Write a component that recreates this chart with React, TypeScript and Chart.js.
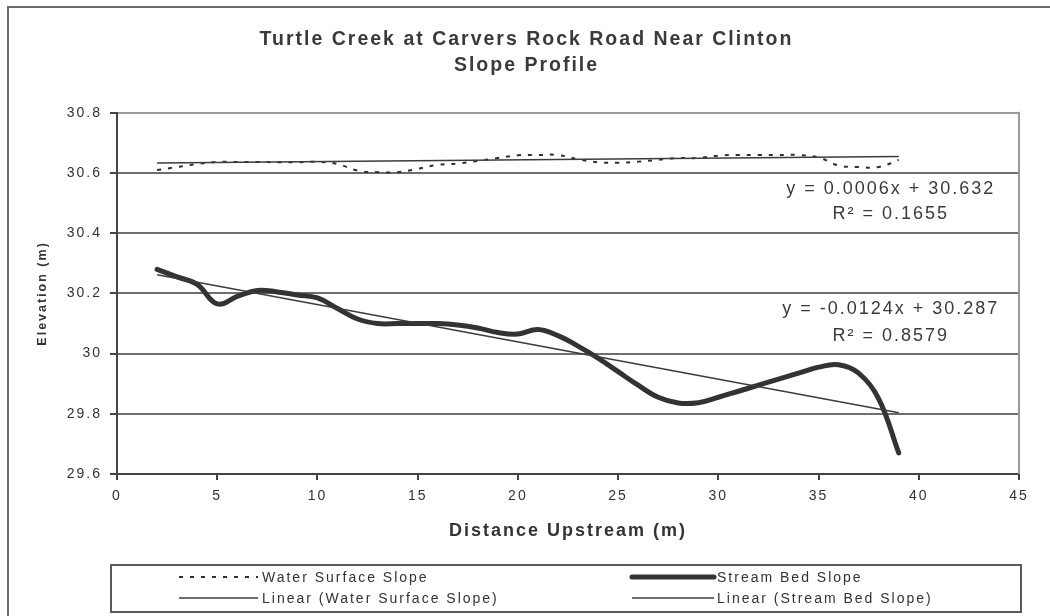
import React, { useEffect, useRef } from "react";
import { Chart, registerables } from "chart.js";

Chart.register(...registerables);

// ---------- data ----------
const TITLE_LINES = ["Turtle Creek at Carvers Rock Road Near Clinton", "Slope Profile"];
const X_TITLE = "Distance Upstream (m)";
const Y_TITLE = "Elevation (m)";

const X_MIN = 0;
const X_MAX = 45;
const X_STEP = 5;
const Y_MIN = 29.6;
const Y_MAX = 30.8;
const Y_STEP = 0.2;

const distance = [
  2, 3, 4, 5, 6, 7, 8, 9, 10, 11, 12, 13, 14, 15, 16, 17, 18, 19, 20, 21,
  22, 23, 24, 25, 26, 27, 28, 29, 30, 31, 32, 33, 34, 35, 36, 37, 38, 39,
];

const waterSurface = [
  30.61, 30.62, 30.63, 30.637, 30.637, 30.637, 30.636, 30.636, 30.637, 30.63,
  30.608, 30.603, 30.603, 30.614, 30.627, 30.632, 30.64, 30.65, 30.659, 30.66,
  30.66, 30.646, 30.636, 30.634, 30.638, 30.644, 30.65, 30.65, 30.658, 30.66,
  30.66, 30.66, 30.66, 30.652, 30.625, 30.62, 30.62, 30.644,
];

const streamBed = [
  30.28, 30.255, 30.23, 30.165, 30.19, 30.21, 30.205, 30.195, 30.185, 30.15,
  30.115, 30.1, 30.1, 30.1, 30.1, 30.095, 30.085, 30.07, 30.065, 30.08,
  30.06, 30.025, 29.985, 29.94, 29.895, 29.855, 29.836, 29.837, 29.855, 29.875,
  29.895, 29.915, 29.935, 29.955, 29.963, 29.935, 29.85, 29.67,
];

const seriesNames = ["Water Surface Slope", "Stream Bed Slope"];
const trendNames = ["Linear (Water Surface Slope)", "Linear (Stream Bed Slope)"];
const trendSlopes = [0.0006, -0.0124];
const trendIntercepts = [30.632, 30.287];
const trendRange = [2, 39];

const equationLines = [
  ["y = 0.0006x + 30.632", "R\u00B2 = 0.1655"],
  ["y = -0.0124x + 30.287", "R\u00B2 = 0.8579"],
];
const equationX = [38.6, 38.6];
const equationY = [
  [30.546, 30.464],
  [30.148, 30.06],
];

// ---------- styling ----------
const FONT = '"Liberation Sans", Arial, sans-serif';
const TEXT = "#333333";

const framePlugin = {
  id: "frameAndSpacing",
  beforeDraw(chart: any) {
    const ctx = chart.ctx;
    ctx.save();
    ctx.fillStyle = "#ffffff";
    ctx.fillRect(0, 0, chart.width, chart.height);
    ctx.strokeStyle = "#6b6b6b";
    ctx.lineWidth = 2;
    ctx.strokeRect(8, 7, chart.width + 60, chart.height + 60);
    ctx.restore();
    ctx.letterSpacing = "2px";
  },
  afterDatasetsDraw(chart: any) {
    const ctx = chart.ctx;
    const a = chart.chartArea;
    ctx.save();
    ctx.strokeStyle = "#9a9a9a";
    ctx.lineWidth = 2;
    ctx.beginPath();
    ctx.moveTo(Math.round(a.right), a.top - 1);
    ctx.lineTo(Math.round(a.right), a.bottom);
    ctx.stroke();

    const xs = chart.scales.x;
    const ys = chart.scales.y;
    ctx.fillStyle = "#3a3a3a";
    ctx.font = `18px ${FONT}`;
    ctx.letterSpacing = "2px";
    ctx.textAlign = "center";
    ctx.textBaseline = "middle";
    equationLines.forEach((lines, i) => {
      lines.forEach((t, j) => {
        ctx.fillText(t, xs.getPixelForValue(equationX[i]), ys.getPixelForValue(equationY[i][j]));
      });
    });
    ctx.restore();
  },
  afterDraw(chart: any) {
    const ctx = chart.ctx;
    const ds = chart.data.datasets;
    ctx.save();
    ctx.letterSpacing = "2px";
    // legend box
    ctx.strokeStyle = "#5a5a5a";
    ctx.lineWidth = 2;
    ctx.strokeRect(111, 565, 910, 47);
    const cols = [
      { x0: 179, x1: 258, tx: 262 },
      { x0: 632, x1: 714, tx: 717 },
    ];
    const rows = [577, 598];
    const items = [
      { d: ds[0], c: 0, r: 0 },
      { d: ds[1], c: 1, r: 0 },
      { d: ds[2], c: 0, r: 1 },
      { d: ds[3], c: 1, r: 1 },
    ];
    ctx.font = `14px ${FONT}`;
    ctx.textBaseline = "middle";
    ctx.textAlign = "left";
    items.forEach((it) => {
      const col = cols[it.c];
      const y = rows[it.r];
      ctx.save();
      ctx.strokeStyle = it.d.borderColor;
      ctx.lineWidth = it.d.borderWidth;
      ctx.setLineDash(it.d.borderDash || []);
      ctx.lineCap = it.d.borderCapStyle || "butt";
      ctx.beginPath();
      ctx.moveTo(col.x0, y);
      ctx.lineTo(col.x1, y);
      ctx.stroke();
      ctx.restore();
      ctx.fillStyle = TEXT;
      ctx.fillText(it.d.label, col.tx, y + 1);
    });
    ctx.restore();
  },
};

export default function App() {
  const ref = useRef<HTMLCanvasElement>(null);

  useEffect(() => {
    const canvas = ref.current;
    if (!canvas) return;

    const toPoints = (ys: number[]) => distance.map((x, i) => ({ x, y: ys[i] }));
    const trendPoints = (k: number) =>
      trendRange.map((x) => ({ x, y: trendSlopes[k] * x + trendIntercepts[k] }));

    const chart = new Chart(canvas, {
      type: "line",
      data: {
        datasets: [
          {
            label: seriesNames[0],
            data: toPoints(waterSurface),
            borderColor: "#2e2e2e",
            borderWidth: 2,
            borderDash: [4, 7],
            pointRadius: 0,
            tension: 0.4,
            fill: false,
            order: 2,
          },
          {
            label: seriesNames[1],
            data: toPoints(streamBed),
            borderColor: "#333333",
            borderWidth: 5,
            borderCapStyle: "round",
            borderJoinStyle: "round",
            pointRadius: 0,
            tension: 0.4,
            fill: false,
            order: 3,
          },
          {
            label: trendNames[0],
            data: trendPoints(0),
            borderColor: "#3c3c3c",
            borderWidth: 1.5,
            pointRadius: 0,
            tension: 0,
            fill: false,
            order: 0,
          },
          {
            label: trendNames[1],
            data: trendPoints(1),
            borderColor: "#3c3c3c",
            borderWidth: 1.5,
            pointRadius: 0,
            tension: 0,
            fill: false,
            order: 1,
          },
        ] as any,
      },
      options: {
        animation: false,
        responsive: false,
        events: [],
        layout: { padding: { left: 34, right: 31, top: 0, bottom: 67 } },
        plugins: {
          legend: { display: false },
          tooltip: { enabled: false },
          title: {
            display: true,
            text: TITLE_LINES,
            color: "#3a3a3a",
            font: { family: FONT, size: 19.5, weight: "bold", lineHeight: 1.33 },
            padding: { top: 27, bottom: 34 },
          },
        },
        scales: {
          x: {
            type: "linear",
            min: X_MIN,
            max: X_MAX,
            ticks: {
              stepSize: X_STEP,
              color: TEXT,
              font: { family: FONT, size: 14 },
              padding: 8,
              maxRotation: 0,
            },
            grid: {
              drawOnChartArea: false,
              drawTicks: true,
              tickLength: 6,
              color: "#444444",
              lineWidth: 2,
            },
            border: { display: true, color: "#444444", width: 2 },
            title: {
              display: true,
              text: X_TITLE,
              color: TEXT,
              font: { family: FONT, size: 18, weight: "bold" },
              padding: { top: 0, bottom: 7 },
            },
            afterFit(scale: any) {
              scale.height = 75;
              scale.paddingLeft = 0;
              scale.paddingRight = 0;
            },
          } as any,
          y: {
            type: "linear",
            min: Y_MIN,
            max: Y_MAX,
            ticks: {
              stepSize: Y_STEP,
              color: TEXT,
              font: { family: FONT, size: 14 },
              padding: 8,
              callback: (v: any) => String(Math.round(Number(v) * 10) / 10),
            },
            grid: {
              drawTicks: true,
              tickLength: 7,
              color: (c: any) => (c.tick && c.tick.value > Y_MAX - 0.01 ? "#9a9a9a" : "#6e6e6e"),
              tickColor: "#444444",
              lineWidth: 2,
            },
            border: { display: true, color: "#444444", width: 2 },
            title: {
              display: true,
              text: Y_TITLE,
              color: TEXT,
              font: { family: FONT, size: 12.5, weight: "bold" },
              padding: { top: 1, bottom: 0 },
            },
            afterFit(scale: any) {
              scale.width = 83;
              scale.paddingTop = 0;
              scale.paddingBottom = 0;
            },
          } as any,
        },
      },
      plugins: [framePlugin],
    });

    return () => chart.destroy();
  }, []);

  return (
    <div style={{ position: "absolute", left: 0, top: 0, width: 1050, height: 616, background: "#fff" }}>
      <canvas ref={ref} width={1050} height={616} style={{ display: "block" }} />
    </div>
  );
}
